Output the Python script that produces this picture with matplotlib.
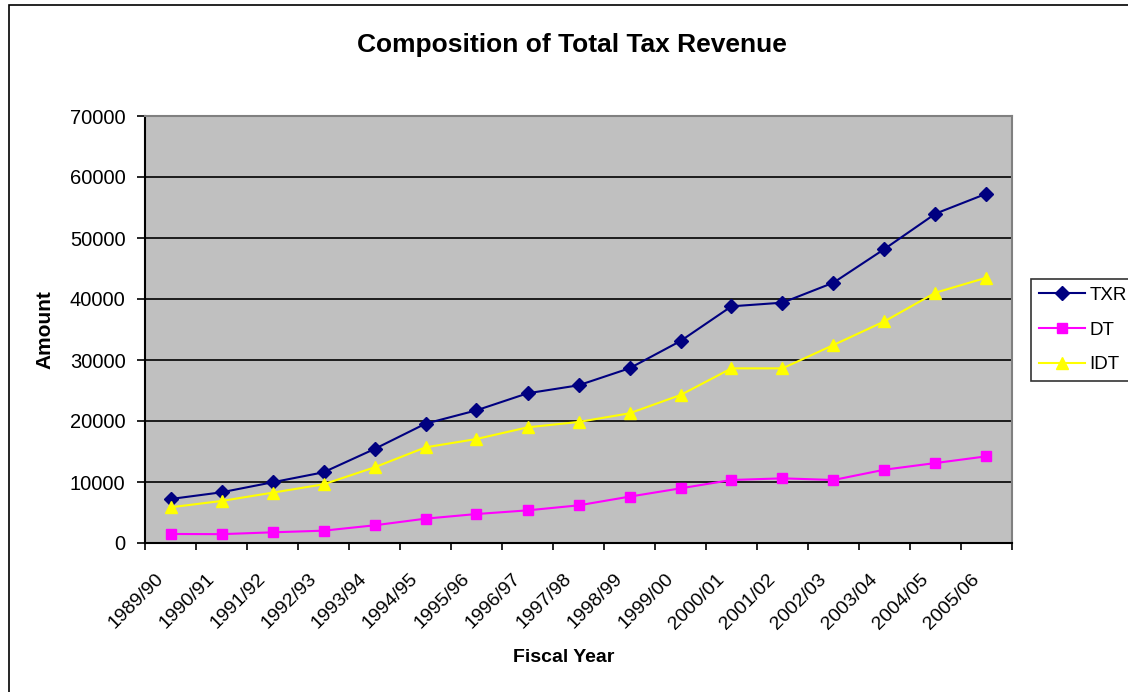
import matplotlib.pyplot as plt
import matplotlib.transforms as mtransforms
from matplotlib.patches import Rectangle
from matplotlib.ticker import MultipleLocator, FixedLocator

years = ['1989/90', '1990/91', '1991/92', '1992/93', '1993/94', '1994/95',
         '1995/96', '1996/97', '1997/98', '1998/99', '1999/00', '2000/01',
         '2001/02', '2002/03', '2003/04', '2004/05', '2005/06']
txr = [7210, 8310, 9950, 11590, 15410, 19560, 21750, 24540, 25850,
       28640, 33110, 38800, 39400, 42680, 48200, 53990, 57270]
dt = [1480, 1450, 1750, 2020, 2900, 3990, 4750, 5350, 6170,
      7600, 8960, 10330, 10600, 10330, 12020, 13110, 14210]
idt = [5850, 6890, 8250, 9620, 12400, 15680, 17050, 18960, 19840,
       21260, 24260, 28630, 28630, 32460, 36340, 41040, 43500]

plt.rcParams['font.family'] = ['Liberation Sans', 'DejaVu Sans']

W, H = 1128, 692
fig = plt.figure(figsize=(W / 100, H / 100), dpi=100)
ax = fig.add_axes([145 / W, 1 - 543 / H, (1012 - 145) / W, (543 - 116) / H])
ax.set_facecolor('#C0C0C0')

x = range(len(years))
ax.plot(x, txr, color='#000080', marker='D', markersize=7.5, lw=1.5, label='TXR', clip_on=False)
ax.plot(x, dt, color='#FF00FF', marker='s', markersize=7, lw=1.5, label='DT', clip_on=False)
ax.plot(x, idt, color='#FFFF00', marker='^', markersize=9, lw=1.5, label='IDT', clip_on=False)

ax.set_xlim(-0.5, len(years) - 0.5)
ax.set_ylim(0, 70000)
ax.yaxis.set_major_locator(MultipleLocator(10000))
ax.grid(axis='y', color='black', lw=1.2)
ax.set_axisbelow(True)

ax.xaxis.set_major_locator(FixedLocator(list(x)))
ax.xaxis.set_minor_locator(FixedLocator([i - 0.5 for i in range(len(years) + 1)]))
ax.set_xticklabels(years, rotation=45, ha='right', va='top', rotation_mode='anchor', fontsize=14)
ax.tick_params(axis='x', which='major', length=0, pad=14)
ax.tick_params(axis='x', which='minor', length=5, width=1.2, direction='out')
ax.tick_params(axis='y', length=6, width=1.2, direction='out', labelsize=14.5, pad=8)

# shift the slanted labels so their ends sit left of the category centre, like Excel
shift = mtransforms.ScaledTranslation(-16 / 100, -8 / 100, fig.dpi_scale_trans)
for lbl in ax.get_xticklabels():
    lbl.set_transform(lbl.get_transform() + shift)

for s in ['top', 'right']:
    ax.spines[s].set_color('#808080')
    ax.spines[s].set_linewidth(1.5)
for s in ['left', 'bottom']:
    ax.spines[s].set_color('black')
    ax.spines[s].set_linewidth(1.5)

fig.text(572 / W, 1 - 45 / H, 'Composition of Total Tax Revenue',
         ha='center', va='center', fontsize=19, fontweight='bold')
fig.text(45 / W, 1 - 330 / H, 'Amount', ha='center', va='center',
         rotation=90, fontsize=15, fontweight='bold')
fig.text(564 / W, 1 - 658 / H, 'Fiscal Year', ha='center', va='center',
         fontsize=14, fontweight='bold')

leg = ax.legend(loc='upper left', bbox_to_anchor=(1031 / W, 1 - 279 / H),
                bbox_transform=fig.transFigure, borderaxespad=0, fontsize=13.5,
                fancybox=False, handlelength=2.45, handletextpad=0.25,
                labelspacing=0.93, borderpad=0.42, frameon=True)
leg.get_frame().set_edgecolor('black')
leg.get_frame().set_linewidth(1.2)

fig.patches.append(Rectangle((9 / W, -0.1), 1.2, 1.1 - 5 / H, transform=fig.transFigure,
                             fill=False, edgecolor='black', lw=1.2))

fig.savefig('out.png', dpi=100)
